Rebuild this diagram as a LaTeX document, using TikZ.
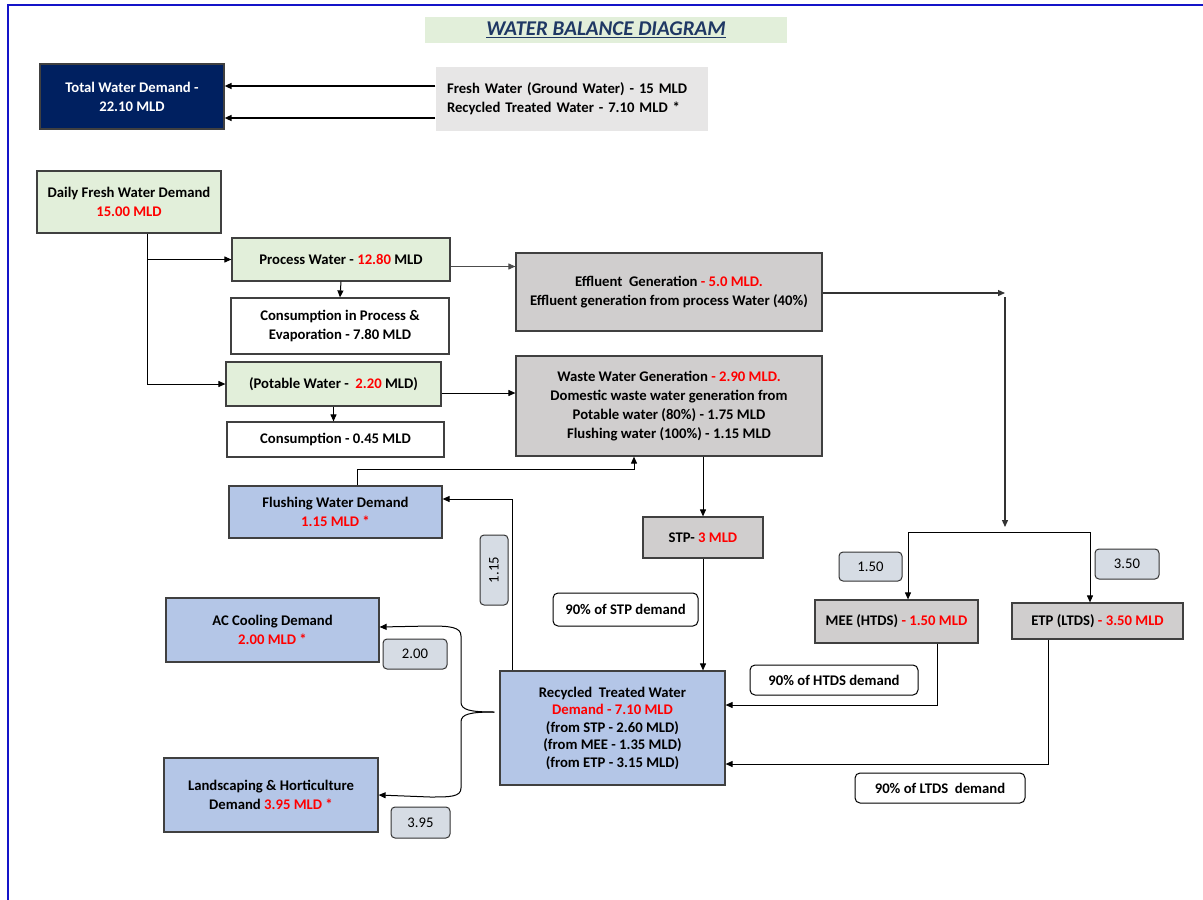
\documentclass[tikz,border=0pt]{standalone}
\usepackage{fontspec}
\setmainfont{Carlito}
\usetikzlibrary{arrows.meta}

\definecolor{navy}{HTML}{002060}
\definecolor{boxgreen}{HTML}{E2EFDA}
\definecolor{boxblue}{HTML}{B4C6E7}
\definecolor{boxgray}{HTML}{D0CECE}
\definecolor{srcgray}{HTML}{E7E6E6}
\definecolor{tagblue}{HTML}{D6DCE4}
\definecolor{titleblue}{HTML}{1F3864}
\definecolor{edge}{HTML}{1414C8}
\newcommand{\redtxt}[1]{\textcolor{red}{#1}}

\begin{document}
\begin{tikzpicture}[x=1pt, y=-1pt, >={Triangle[length=7pt,width=6pt]},
    box/.style={draw=black!75, line width=1.2pt, font=\bfseries\fontsize{14.7}{19}\selectfont, align=center, inner sep=0pt},
    size/.style 2 args={minimum width=#1, minimum height=#2},
    tag/.style={draw=black!80, rounded corners=4pt, line width=1pt, fill=tagblue, font=\fontsize{14.7}{16}\selectfont, inner sep=0pt},
    note/.style={draw=black, rounded corners=5pt, line width=1pt, fill=white, font=\bfseries\fontsize{14.7}{16}\selectfont, inner sep=0pt},
    flow/.style={->, line width=1pt}]

    \useasboundingbox (0,0) rectangle (1203,900);
    \draw[edge, line width=1.5pt] (8,900) -- (8,5) -- (1203,5);

    % title and totals
    \node[box, draw=none, fill=boxgreen, text=titleblue, size={362}{26}, font=\bfseries\itshape\fontsize{21}{22}\selectfont] (title) at (606,30) {\underline{WATER BALANCE DIAGRAM}};
    \node[box, fill=navy, text=white, size={184}{65}] (total) at (132,96.5) {Total Water Demand -\\22.10 MLD};
    \node[box, draw=none, fill=srcgray, text width=250, align=left, inner xsep=11, minimum height=64] (source) at (572,99) {Fresh Water (Ground Water) - 15 MLD\\Recycled Treated Water - 7.10 MLD *};

    \coordinate (s1) at ([yshift=13pt]source.west);
    \coordinate (s2) at ([yshift=-19pt]source.west);
    \draw[flow, line width=1.5pt] (s1) -- (s1 -| total.east);
    \draw[flow, line width=1.5pt] (s2) -- (s2 -| total.east);

    %%%%%%%%%%%%%%%%%%%%
    \node[box, fill=boxgreen, size={184}{62}] (fresh) at (129,202) {Daily Fresh Water Demand\\\redtxt{15.00 MLD}};
    \node[box, fill=boxgreen, size={218}{43}] (process) at (341,259.5) {Process Water - \redtxt{12.80} MLD};
    \node[box, fill=white, size={218}{56}] (conproc) at (340,326) {Consumption in Process \&\\Evaporation - 7.80 MLD};
    \node[box, fill=boxgreen, size={215}{44}] (potable) at (333.5,384) {(Potable Water - \ \redtxt{2.20} MLD)};
    \node[box, fill=white, size={217}{35}] (conpot) at (335.5,439.5) {Consumption - 0.45 MLD};

    \coordinate (d0) at ([xshift=18pt]fresh.south);
    \draw[flow] (d0) |- (potable.west);
    \draw[flow] (d0 |- process.west) -- (process.west);
    \draw[flow] (process.south) -- (conproc.north);
    \draw[flow] (potable.south) -- (potable.south |- conpot.north);

    %%%%%%%%%%%%%%%%%%%%
    \node[box, fill=boxgray, size={306}{78}] (effluent) at (669,292) {Effluent~ Generation \redtxt{- 5.0 MLD.}\\Effluent generation from process Water (40\%)};
    \node[box, fill=boxgray, size={306}{100}] (waste) at (669,406) {Waste Water Generation \redtxt{- 2.90 MLD.}\\Domestic waste water generation from\\Potable water (80\%) - 1.75 MLD\\Flushing water (100\%) - 1.15 MLD};

    \coordinate (p1) at ([yshift=-7pt]process.east);
    \draw[flow, black!70] (p1) -- (p1 -| effluent.west);
    \coordinate (p2) at ([yshift=-9pt]potable.east);
    \draw[flow] (p2) -- (p2 -| waste.west);

    %%%%%%%%%%%%%%%%%%%%
    \node[box, fill=boxgray, size={120}{41}] (stp) at (703,537.5) {STP- \redtxt{3 MLD}};
    \node[box, fill=boxgray, size={163}{43}] (mee) at (896.5,621.5) {MEE (HTDS) \redtxt{- 1.50 MLD}};
    \node[box, fill=boxgray, size={171}{36}] (etp) at (1097.5,621) {ETP (LTDS) \redtxt{- 3.50 MLD}};

    \coordinate (e1) at (1005,293);
    \coordinate (e2) at (1005,527);
    \coordinate (sp) at (1005,532);
    \draw[flow, line width=1.3pt, black!80] (effluent.east |- e1) -- (e1);
    \draw[flow, line width=1.3pt, black!80] ([yshift=-4pt]e1) -- (e2);
    \coordinate (m0) at ([xshift=11.5pt]mee.north);
    \coordinate (t0) at ([xshift=-7.5pt]etp.north);
    \draw[line width=1pt] (m0 |- sp) -- (t0 |- sp);
    \draw[flow] (m0 |- sp) -- (m0);
    \draw[flow] (t0 |- sp) -- (t0);
    \node[tag, size={63}{29}] (t150) at (870.5,566.5) {1.50};
    \node[tag, size={64}{30}] (t350) at (1127,564) {3.50};

    \draw[flow] (waste.south -| stp.north) -- (stp.north);

    %%%%%%%%%%%%%%%%%%%%
    \node[box, fill=boxblue, size={225}{114}, font=\bfseries\fontsize{14.7}{17.5}\selectfont] (recycled) at (612.5,728) {Recycled~ Treated Water\\\redtxt{Demand - 7.10 MLD}\\(from STP - 2.60 MLD)\\(from MEE - 1.35 MLD)\\(from ETP - 3.15 MLD)};

    \draw[flow] (stp.south) -- (stp.south |- recycled.north);
    \draw[flow] ([xshift=40.5pt]mee.south) |- ([yshift=23pt]recycled.east);
    \draw[flow] ([xshift=-49.5pt]etp.south) |- ([yshift=-36pt]recycled.east);

    \node[note, size={145}{33}] (n1) at (625.5,609.5) {90\% of STP demand};
    \node[note, size={168}{30}] (n2) at (834,680) {90\% of HTDS demand};
    \node[note, size={170}{30}] (n3) at (940,788) {90\% of LTDS~ demand};

    %%%%%%%%%%%%%%%%%%%%
    \node[box, fill=boxblue, size={213}{52}] (flush) at (335.5,512) {Flushing Water Demand\\\redtxt{1.15 MLD *}};
    \node[box, fill=boxblue, size={213}{64}] (ac) at (272.5,630) {AC Cooling Demand\\\redtxt{2.00 MLD *}};
    \node[box, fill=boxblue, size={214}{74}] (land) at (271,795) {Landscaping \& Horticulture\\Demand \redtxt{3.95 MLD *}};

    \draw[flow] ([xshift=-100.5pt]recycled.north) |- ([yshift=13pt]flush.east);
    \draw[flow] ([xshift=21.5pt]flush.north) -- ++(0,-16) -| ([xshift=-35pt]waste.south);
    \node[tag, size={70}{28}, rotate=90] (t115) at (494,570) {1.15};

    \coordinate (tip) at ([xshift=-5pt, yshift=16pt]recycled.west);
    \draw[flow] (tip) .. controls (470,712) and (461,710) .. (461,702) -- (461,636) .. controls (461,627) and (450,626) .. (430,626) -- ([yshift=3pt]ac.east);
    \draw[flow] (tip) .. controls (470,712) and (461,714) .. (461,722) -- (461,788) .. controls (461,797) and (450,797) .. (430,797) -- (land.east);
    \node[tag, size={64}{30}] (t200) at (415,654) {2.00};
    \node[tag, size={59}{31}] (t395) at (420.5,822.5) {3.95};
\end{tikzpicture}
\end{document}
